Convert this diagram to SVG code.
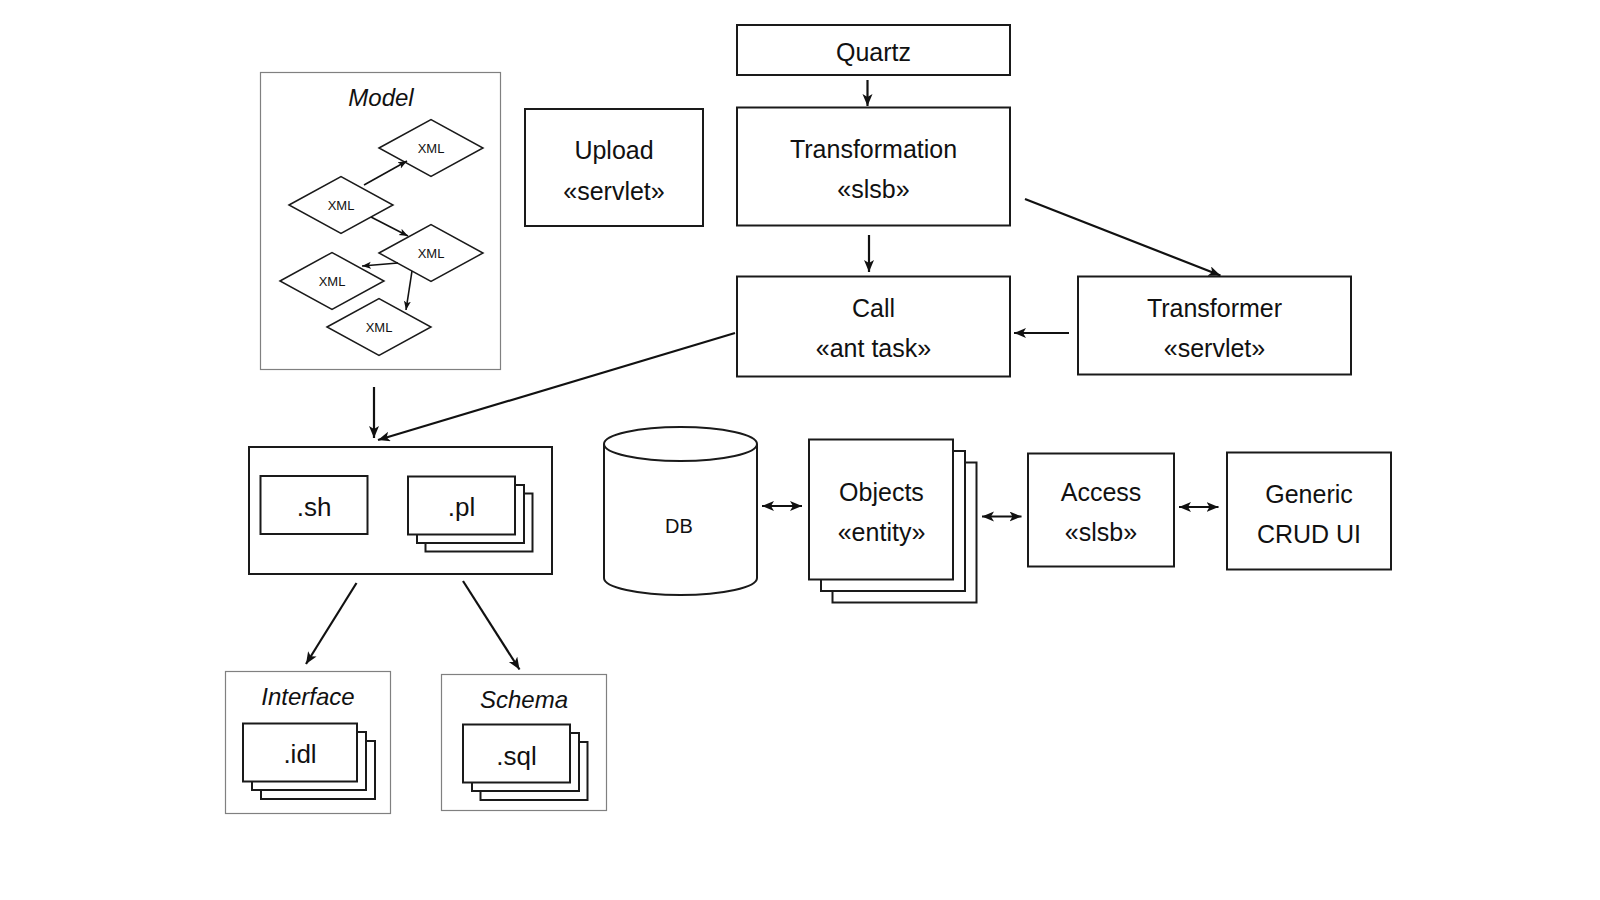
<svg xmlns="http://www.w3.org/2000/svg" width="1600" height="900" viewBox="0 0 1600 900">
<style>
.bg{fill:#fff}
.box{fill:#fff;stroke:#1a1a1a;stroke-width:2}
.frame{fill:#fff;stroke:#808080;stroke-width:1.2}
.dia{fill:#fff;stroke:#1a1a1a;stroke-width:1.5}
.t{font-family:"Liberation Sans",Arial,sans-serif;font-size:25px;fill:#111;text-anchor:middle;dominant-baseline:central}
.ti{font-family:"Liberation Sans",Arial,sans-serif;font-size:24px;font-style:italic;fill:#111;text-anchor:middle;dominant-baseline:central}
.ts{font-family:"Liberation Sans",Arial,sans-serif;font-size:13px;fill:#111;text-anchor:middle;dominant-baseline:central}
.tdb{font-family:"Liberation Sans",Arial,sans-serif;font-size:20px;fill:#111;text-anchor:middle;dominant-baseline:central}
.c{fill:none;stroke:#111;stroke-width:2.2;marker-end:url(#ah)}
.cd{fill:none;stroke:#111;stroke-width:2.2;marker-end:url(#ah);marker-start:url(#ah)}
.cs{fill:none;stroke:#111;stroke-width:1.6;marker-end:url(#ahs)}
</style>
<defs>
<marker id="ah" markerUnits="userSpaceOnUse" markerWidth="14" markerHeight="12" refX="12" refY="5" orient="auto-start-reverse">
<path d="M0,0 L12,5 L0,10 L3,5 z" fill="#111"/>
</marker>
<marker id="ahs" markerUnits="userSpaceOnUse" markerWidth="10" markerHeight="8" refX="9" refY="3.5" orient="auto">
<path d="M0,0 L9,3.5 L0,7 L2.2,3.5 z" fill="#111"/>
</marker>
</defs>
<rect class="bg" x="0" y="0" width="1600" height="900"/>

<g id="model">
<rect class="frame" x="260.5" y="72.5" width="240" height="297"/>
<text class="ti" x="381" y="97">Model</text>
<g id="xml1"><polygon class="dia" points="379,148 431,119.5 483,148 431,176.5"/><text class="ts" x="431" y="148">XML</text></g>
<g id="xml2"><polygon class="dia" points="289,205 341,176.5 393,205 341,233.5"/><text class="ts" x="341" y="205">XML</text></g>
<g id="xml3"><polygon class="dia" points="379,253 431,224.5 483,253 431,281.5"/><text class="ts" x="431" y="253">XML</text></g>
<g id="xml4"><polygon class="dia" points="280,281 332,252.5 384,281 332,309.5"/><text class="ts" x="332" y="281">XML</text></g>
<g id="xml5"><polygon class="dia" points="327,327 379,298.5 431,327 379,355.5"/><text class="ts" x="379" y="327">XML</text></g>
<g id="model-connectors">
<line class="cs" x1="364" y1="185" x2="407" y2="161"/>
<line class="cs" x1="371" y1="217" x2="408" y2="236"/>
<line class="cs" x1="398" y1="263" x2="362" y2="266"/>
<line class="cs" x1="412" y1="271" x2="406" y2="310"/>
</g>
</g>

<g id="upload">
<rect class="box" x="525" y="109" width="178" height="117"/>
<text class="t" x="614" y="150">Upload</text>
<text class="t" x="614" y="191">«servlet»</text>
</g>

<g id="quartz">
<rect class="box" x="737" y="25" width="273" height="50"/>
<text class="t" x="873.5" y="52">Quartz</text>
</g>

<g id="transformation">
<rect class="box" x="737" y="107.5" width="273" height="118"/>
<text class="t" x="873.5" y="149">Transformation</text>
<text class="t" x="873.5" y="189">«slsb»</text>
</g>

<g id="call">
<rect class="box" x="737" y="276.5" width="273" height="100"/>
<text class="t" x="873.5" y="308">Call</text>
<text class="t" x="873.5" y="348">«ant task»</text>
</g>

<g id="transformer">
<rect class="box" x="1078" y="276.5" width="273" height="98"/>
<text class="t" x="1214.5" y="308">Transformer</text>
<text class="t" x="1214.5" y="348">«servlet»</text>
</g>

<g id="scripts">
<rect class="box" x="249" y="447" width="303" height="127"/>
<g id="sh">
<rect class="box" x="260.5" y="476" width="107" height="58"/>
<text class="t" x="314" y="507" style="font-size:26px">.sh</text>
</g>
<g id="pl">
<rect class="box" x="425.5" y="493.5" width="107" height="58"/>
<rect class="box" x="417" y="485" width="107" height="58"/>
<rect class="box" x="408" y="476.5" width="107" height="58"/>
<text class="t" x="461.5" y="507" style="font-size:26px">.pl</text>
</g>
</g>

<g id="interface">
<rect class="frame" x="225.5" y="671.5" width="165" height="142"/>
<text class="ti" x="308" y="696">Interface</text>
<rect class="box" x="261" y="741" width="114" height="58"/>
<rect class="box" x="252" y="732" width="114" height="58"/>
<rect class="box" x="243" y="723.5" width="114" height="58"/>
<text class="t" x="300" y="754" style="font-size:26px">.idl</text>
</g>

<g id="schema">
<rect class="frame" x="441.5" y="674.5" width="165" height="136"/>
<text class="ti" x="524" y="699">Schema</text>
<rect class="box" x="480.5" y="742" width="107" height="58"/>
<rect class="box" x="472" y="733" width="107" height="58"/>
<rect class="box" x="463" y="724.5" width="107" height="58"/>
<text class="t" x="516.5" y="756" style="font-size:26px">.sql</text>
</g>

<g id="db">
<path class="box" d="M604,444 L604,578 A76.5,17 0 0 0 757,578 L757,444"/>
<ellipse class="box" cx="680.5" cy="444" rx="76.5" ry="17"/>
<text class="tdb" x="679" y="526">DB</text>
</g>

<g id="objects">
<rect class="box" x="832.5" y="462.5" width="144" height="140"/>
<rect class="box" x="821" y="451" width="144" height="140"/>
<rect class="box" x="809" y="439.5" width="144" height="140"/>
<text class="t" x="881.5" y="492">Objects</text>
<text class="t" x="881.5" y="532">«entity»</text>
</g>

<g id="access">
<rect class="box" x="1028" y="453.5" width="146" height="113"/>
<text class="t" x="1101" y="492">Access</text>
<text class="t" x="1101" y="532">«slsb»</text>
</g>

<g id="crud">
<rect class="box" x="1227" y="452.5" width="164" height="117"/>
<text class="t" x="1309" y="494">Generic</text>
<text class="t" x="1309" y="534">CRUD UI</text>
</g>

<g id="connectors">
<line class="c" x1="867.5" y1="80" x2="867.5" y2="106"/>
<line class="c" x1="869" y1="235" x2="869" y2="272"/>
<line class="c" x1="1025" y1="199" x2="1220.5" y2="275.5"/>
<line class="c" x1="1069" y1="333" x2="1014" y2="333"/>
<line class="c" x1="735" y1="333" x2="378" y2="440"/>
<line class="c" x1="374" y1="387" x2="374" y2="438"/>
<line class="c" x1="356.5" y1="583" x2="306" y2="664"/>
<line class="c" x1="463" y1="581" x2="519.5" y2="669.5"/>
<line class="cd" x1="762" y1="506" x2="802" y2="506"/>
<line class="cd" x1="982" y1="516.5" x2="1021.5" y2="516.5"/>
<line class="cd" x1="1179" y1="507" x2="1218.5" y2="507"/>
</g>
</svg>
